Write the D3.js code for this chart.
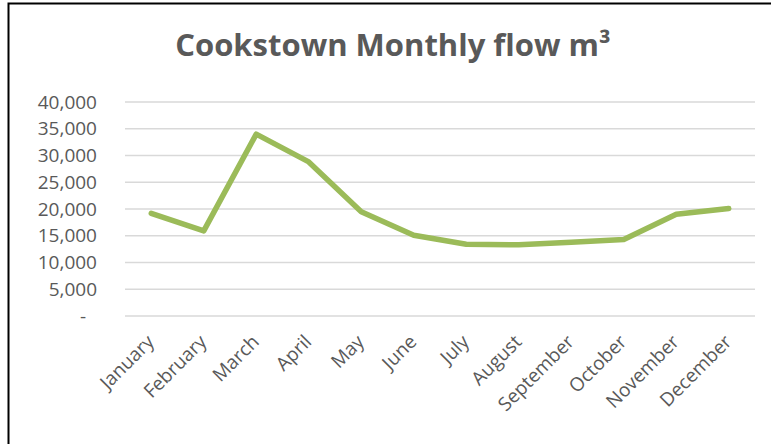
<!DOCTYPE html>
<html><head><meta charset="utf-8">
<script src="https://cdn.jsdelivr.net/npm/d3@7"></script>
<style>html,body{margin:0;padding:0;background:#fff;}svg{display:block;}</style>
</head><body>
<svg id="c" width="771" height="444"></svg>
<script>
const months = ["January","February","March","April","May","June","July","August","September","October","November","December"];
const flow = [19200, 15900, 34000, 28800, 19500, 15100, 13400, 13300, 13800, 14300, 19000, 20100];
const yTicks = [0, 5000, 10000, 15000, 20000, 25000, 30000, 35000, 40000];
const title = "Cookstown Monthly flow m³";

const svg = d3.select("#c");
const W = 771, H = 444;
const m = {left:125, right:16, top:102, bottom:128};

// chart frame
svg.append("path").attr("d", `M8.5,${H} L8.5,3.5 L${W},3.5`)
  .attr("fill","none").attr("stroke","#000").attr("stroke-width",2);

const x = d3.scaleBand().domain(months).range([m.left, W - m.right]);
const y = d3.scaleLinear().domain([0, 40000]).range([H - m.bottom, m.top]);

// gridlines
svg.append("g").selectAll("line").data(yTicks).join("line")
  .attr("x1", m.left).attr("x2", W - m.right)
  .attr("y1", d => y(d)).attr("y2", d => y(d))
  .attr("stroke", "#D9D9D9").attr("stroke-width", 1.3);

const fmt = d => d === 0 ? "-" : d3.format(",")(d);
const yAxis = d3.axisLeft(y).tickValues(yTicks).tickFormat(fmt).tickSize(0).tickPadding(28);
const gy = svg.append("g").attr("transform", `translate(${m.left},0)`).call(yAxis);
gy.select(".domain").remove();
gy.selectAll("text").attr("font-family","'Open Sans', sans-serif").attr("font-size",19).attr("fill","#595959");
gy.selectAll(".tick").filter(d => d === 0).select("text").attr("dx", -11);

const xAxis = d3.axisBottom(x).tickSize(0).tickPadding(0);
const gx = svg.append("g").attr("transform", `translate(0,${H - m.bottom})`).call(xAxis);
gx.select(".domain").remove();
gx.selectAll("text")
  .attr("font-family","'Open Sans', sans-serif").attr("font-size",19).attr("fill","#595959")
  .attr("text-anchor","end").attr("dy", null).attr("y", 0)
  .attr("transform", "translate(4,27) rotate(-45)");

const line = d3.line().x((d,i) => x(months[i]) + x.bandwidth()/2).y(d => y(d));
svg.append("path").datum(flow).attr("d", line)
  .attr("fill","none").attr("stroke","#9BBB59").attr("stroke-width",5.5)
  .attr("stroke-linejoin","round").attr("stroke-linecap","round");

svg.append("text").attr("x", 393).attr("y", 56).attr("text-anchor","middle")
  .attr("font-family","'Open Sans', sans-serif").attr("font-weight","bold")
  .attr("font-size", 31).attr("fill","#595959").text(title);
</script>
</body></html>
